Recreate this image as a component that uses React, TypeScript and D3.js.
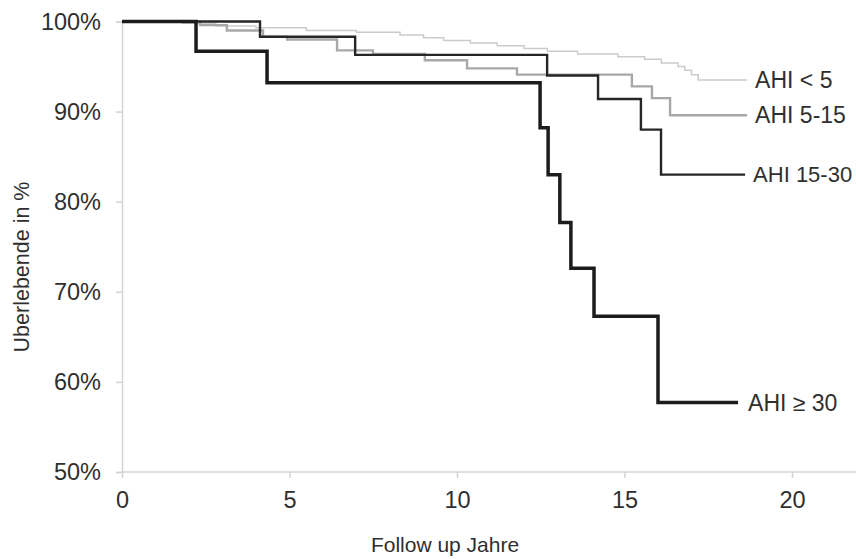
import React, { useRef, useEffect } from "react";
import * as d3 from "d3";

// Kaplan-Meier Überlebenskurven nach AHI-Gruppe
const groupLabels = ["AHI < 5", "AHI 5-15", "AHI 15-30", "AHI \u2265 30"];

const ahiLt5Years = [0, 1.8, 2.8, 4.0, 5.5, 7.0, 8.3, 9.0, 9.6, 10.4, 11.2, 12.0, 12.7, 13.6, 14.8, 15.6, 16.1, 16.6, 16.8, 17.0, 17.2, 18.66];
const ahiLt5Surv = [100, 99.8, 99.5, 99.3, 99.0, 98.8, 98.5, 98.2, 97.9, 97.6, 97.3, 97.0, 96.7, 96.4, 96.1, 95.8, 95.4, 95.0, 94.6, 94.1, 93.5, 93.5];

const ahi5to15Years = [0, 2.33, 3.13, 4.21, 4.93, 6.42, 7.49, 9.04, 10.3, 11.79, 15.22, 15.82, 16.36, 18.66];
const ahi5to15Surv = [100, 99.6, 99.0, 98.3, 98.0, 96.8, 96.4, 95.7, 94.8, 94.1, 92.8, 91.5, 89.6, 89.6];

const ahi15to30Years = [0, 4.12, 6.96, 12.69, 14.21, 15.49, 16.09, 18.6];
const ahi15to30Surv = [100, 98.3, 96.3, 94.0, 91.4, 88.0, 83.0, 83.0];

const ahiGe30Years = [0, 2.21, 4.33, 12.48, 12.72, 13.07, 13.4, 14.09, 16.0, 18.39];
const ahiGe30Surv = [100, 96.7, 93.2, 88.2, 83.0, 77.7, 72.6, 67.3, 57.7, 57.7];

const xTicks = [0, 5, 10, 15, 20];
const yTicks = [50, 60, 70, 80, 90, 100];

const App = () => {
  const svgRef = useRef<SVGSVGElement>(null);

  useEffect(() => {
    const width = 856;
    const height = 559;
    const svg = d3.select(svgRef.current).attr("width", width).attr("height", height);
    svg.selectAll("*").remove();

    const x = d3.scaleLinear().domain([0, 20]).range([122, 792]);
    const y = d3.scaleLinear().domain([50, 100]).range([472, 21.5]);
    const font = "'Liberation Sans', Arial, sans-serif";
    const textColor = "#2f2f2f";

    // axes
    const xAxis = svg
      .append("g")
      .attr("transform", `translate(0,${y(50)})`)
      .call(d3.axisBottom(x).tickValues(xTicks).tickSize(6).tickPadding(13).tickFormat(d3.format("d")));
    xAxis.select(".domain").remove();
    svg
      .append("line")
      .attr("x1", x(0))
      .attr("x2", width)
      .attr("y1", y(50))
      .attr("y2", y(50))
      .attr("stroke", "#d4d4d4")
      .attr("stroke-width", 1.5);

    const yAxis = svg
      .append("g")
      .attr("transform", `translate(${x(0)},0)`)
      .call(d3.axisLeft(y).tickValues(yTicks).tickSize(6).tickPadding(15).tickFormat((d) => `${d}%`));
    yAxis.select(".domain").attr("stroke", "#d4d4d4").attr("stroke-width", 1.5);

    svg.selectAll(".tick line").attr("stroke", "#d4d4d4").attr("stroke-width", 1.5);
    svg
      .selectAll(".tick text")
      .attr("fill", textColor)
      .style("font-family", font)
      .style("font-size", "23.5px");

    // curves
    const line = d3
      .line<[number, number]>()
      .x((d) => x(d[0]))
      .y((d) => y(d[1]))
      .curve(d3.curveStepAfter);

    const series = [
      { years: ahiLt5Years, surv: ahiLt5Surv, color: "#cbcbcb", width: 1.5, label: groupLabels[0], dx: 8, size: 23 },
      { years: ahi5to15Years, surv: ahi5to15Surv, color: "#a8a8a8", width: 2.4, label: groupLabels[1], dx: 8, size: 23 },
      { years: ahi15to30Years, surv: ahi15to30Surv, color: "#262626", width: 2.4, label: groupLabels[2], dx: 8, size: 22 },
      { years: ahiGe30Years, surv: ahiGe30Surv, color: "#1c1c1c", width: 3.5, label: groupLabels[3], dx: 10, size: 23 },
    ];

    series.forEach((s) => {
      const pts = s.years.map((t, i) => [t, s.surv[i]] as [number, number]);
      svg
        .append("path")
        .attr("d", line(pts))
        .attr("fill", "none")
        .attr("stroke", s.color)
        .attr("stroke-width", s.width);

      const last = pts[pts.length - 1];
      svg
        .append("text")
        .attr("x", x(last[0]) + s.dx)
        .attr("y", y(last[1]))
        .attr("dy", "0.35em")
        .attr("fill", textColor)
        .style("font-family", font)
        .style("font-size", `${s.size}px`)
        .text(s.label);
    });

    // axis titles
    svg
      .append("text")
      .attr("x", 445)
      .attr("y", 552)
      .attr("text-anchor", "middle")
      .attr("fill", textColor)
      .style("font-family", font)
      .style("font-size", "21px")
      .text("Follow up Jahre");

    svg
      .append("text")
      .attr("transform", `translate(29,267) rotate(-90)`)
      .attr("text-anchor", "middle")
      .attr("fill", textColor)
      .style("font-family", font)
      .style("font-size", "21.5px")
      .text("Uberlebende in %");

    return () => {
      svg.selectAll("*").remove();
    };
  }, []);

  return (
    <svg
      ref={svgRef}
      style={{ position: "absolute", left: 0, top: 0, background: "#fff", display: "block" }}
    />
  );
};

export default App;
